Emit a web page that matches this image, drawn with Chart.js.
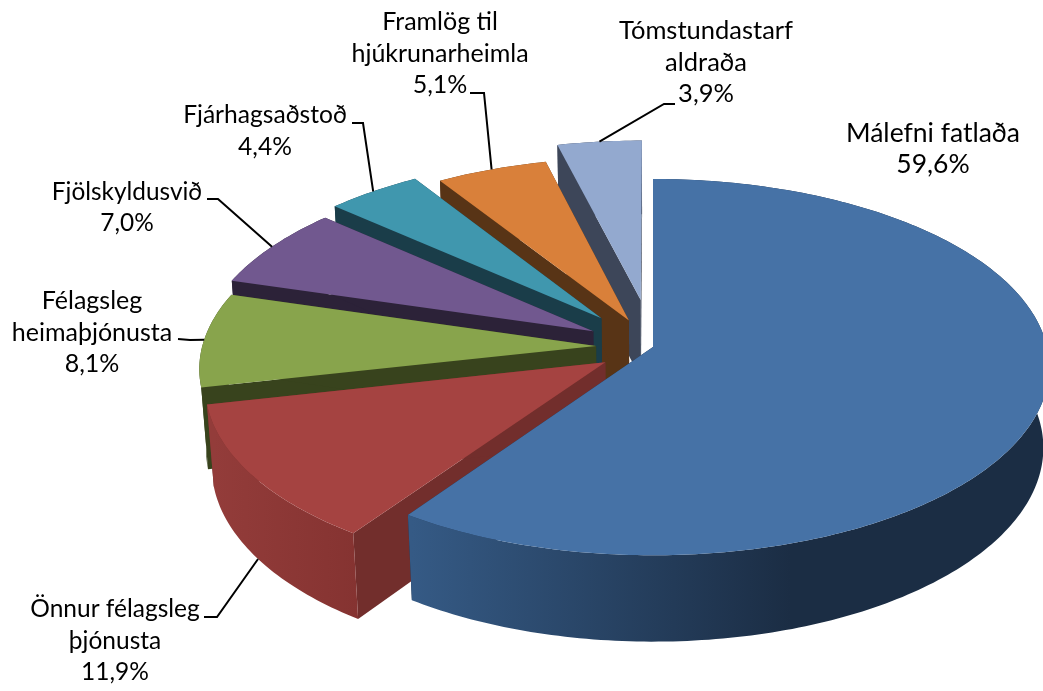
<!DOCTYPE html>
<html><head><meta charset="utf-8">
<style>html,body{margin:0;padding:0;background:#fff}canvas{display:block}</style>
<script src="https://cdn.jsdelivr.net/npm/chart.js@4"></script>
</head><body><canvas id="c" width="1043" height="691"></canvas>
<script>
// ---- data ----
const categories = ['Málefni fatlaða','Önnur félagsleg þjónusta','Félagsleg heimaþjónusta','Fjölskyldusvið','Fjárhagsaðstoð','Framlög til hjúkrunarheimla','Tómstundastarf aldraða'];
const values = [59.6, 11.9, 8.1, 7.0, 4.4, 5.1, 3.9];
const valueLabels = ['59,6%','11,9%','8,1%','7,0%','4,4%','5,1%','3,9%'];
// ---- style ----
const topColors = ['#4672a6','#a54341','#88a44c','#71588f','#4097ae','#d9803a','#93a9cf'];
const sideColors = ['#1b2d44','#722e2c','#38431d','#2c2238','#1a3d49','#583416','#3d4659'];
const rimStops = [
  [[0,'#355a85'],[0.6,'#1b2d44'],[1,'#1b2d44']],
  [[0,'#933c3a'],[1,'#853331']],
  [[0,'#38431d'],[1,'#38431d']],
  [[0,'#2c2238'],[1,'#2c2238']],
  [[0,'#1a3d49'],[1,'#1a3d49']],
  [[0,'#583416'],[1,'#583416']],
  [[0,'#3d4659'],[1,'#3d4659']]
];
const explode = [0, 57, 57, 69, 81, 62, 103];
// ---- label layout ----
const labelLines = [
  ['Málefni fatlaða'],['Önnur félagsleg','þjónusta'],['Félagsleg','heimaþjónusta'],
  ['Fjölskyldusvið'],['Fjárhagsaðstoð'],['Framlög til','hjúkrunarheimla'],['Tómstundastarf','aldraða']];
const labelCenters = [[933,133],[115,609],[92,301],[127,192],[265,115],[440,22],[706,31]];
const labelSizes = [26.5,24.5,25,24.4,24.6,25,25.5];
const leaderStart = [null,[[204,617],[217,617]],[[178,339],[190,340]],[[207,199],[218,199]],[[352,123],[363,123]],[[470,93],[484,93]],[[675,104],[664,104]]];
const leaderDepth = [0,1,0,0,0,0,0];
// ---- projection ----
const PERSP = 0.107, FLAT = 0.472, DEPTH = 0.207, SINK = 0.015;
function proj(arc, ang, r, z){
  const R = arc.outerRadius, mid = (arc.startAngle + arc.endAngle)/2, off = (arc.options.offset||0)/R;
  const u = r*Math.cos(ang) + off*Math.cos(mid), v = r*Math.sin(ang) + off*Math.sin(mid);
  const w = 1 - PERSP*v + SINK*z;
  return [arc.x + R*u/w, arc.y + R*(FLAT*v + DEPTH*z)/w];
}
function poly(ctx, pts, fill){
  ctx.beginPath(); pts.forEach((p,i)=> i?ctx.lineTo(p[0],p[1]):ctx.moveTo(p[0],p[1])); ctx.closePath();
  ctx.fillStyle = fill; ctx.fill();
}
function rim(arc, z){
  const n = Math.max(8, Math.ceil((arc.endAngle-arc.startAngle)*60)), a=[];
  for(let i=0;i<=n;i++) a.push(proj(arc, arc.startAngle+(arc.endAngle-arc.startAngle)*i/n, 1, z));
  return a;
}
const pie3d = {
  id:'pie3d',
  beforeDatasetDraw(chart){
    const ctx = chart.ctx, arcs = chart.getDatasetMeta(0).data;
    for(let i=arcs.length-1;i>=0;i--){
      const a = arcs[i], top = rim(a,0), bot = rim(a,1);
      const c0 = proj(a,0,0,0), c1 = proj(a,0,0,1);
      poly(ctx,[c0,top[0],bot[0],c1],sideColors[i]);
      poly(ctx,[c0,top[top.length-1],bot[bot.length-1],c1],sideColors[i]);
      const xs = bot.map(p=>p[0]), g = ctx.createLinearGradient(Math.min(...xs),0,Math.max(...xs),0);
      rimStops[i].forEach(s=>g.addColorStop(s[0],s[1]));
      poly(ctx,top.concat(bot.slice().reverse()),g);
      poly(ctx,[c0].concat(top),topColors[i]);
    }
    return false;
  },
  afterDatasetsDraw(chart){
    const ctx = chart.ctx, arcs = chart.getDatasetMeta(0).data;
    ctx.save();
    ctx.strokeStyle='#000'; ctx.lineWidth=2; ctx.lineJoin='miter';
    arcs.forEach((a,i)=>{
      if(!leaderStart[i]) return;
      const e = proj(a,(a.startAngle+a.endAngle)/2,1,leaderDepth[i]), s = leaderStart[i];
      ctx.beginPath(); ctx.moveTo(s[0][0],s[0][1]); ctx.lineTo(s[1][0],s[1][1]); ctx.lineTo(e[0],e[1]); ctx.stroke();
    });
    ctx.fillStyle='#000'; ctx.textAlign='center'; ctx.textBaseline='middle';
    labelLines.forEach((ls,i)=>{
      ctx.font = labelSizes[i]+'px Lato';
      ls.concat([valueLabels[i]]).forEach((t,k)=>ctx.fillText(t,labelCenters[i][0],labelCenters[i][1]+k*31.6));
    });
    ctx.restore();
  }
};
new Chart(document.getElementById('c'),{
  type:'pie',
  data:{labels:categories,datasets:[{data:values,backgroundColor:topColors,offset:explode,borderWidth:0}]},
  options:{responsive:false,animation:false,radius:394,layout:{padding:{left:263,top:3}},
    plugins:{legend:{display:false},tooltip:{enabled:false}},events:[]},
  plugins:[pie3d]
});
</script></body></html>
